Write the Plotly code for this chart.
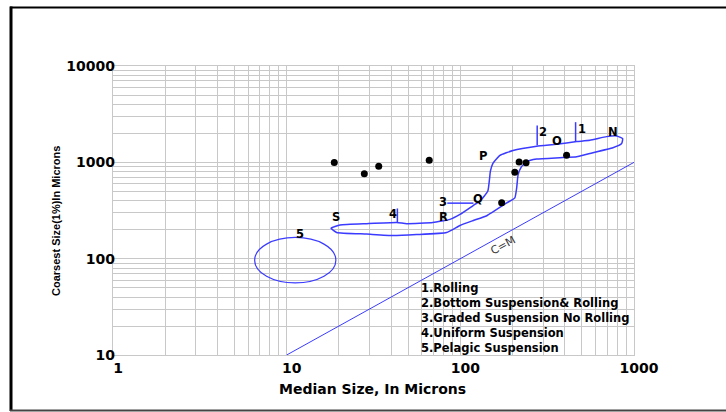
import numpy as np
import plotly.graph_objects as go

# ---------------- data ----------------
# sample points (median size, coarsest size)
dot_x = [18.8, 28.0, 33.9, 66.2, 173, 206, 218, 239, 409]
dot_y = [998, 759, 910, 1048, 380, 789, 1007, 993, 1188]

# C=M reference line
cm_x = [10, 1000]
cm_y = [10, 1000]

# NOPQRS envelope (closed loop)
env_x = [18.0, 20.3, 28.9, 43.0, 49.1, 69.5, 87.1, 99.5, 118, 130, 144, 149, 154, 169,
         201, 275, 358, 468, 557, 695, 794, 860, 849, 756, 557, 468, 374, 275, 241,
         225, 215, 211, 206, 185, 142, 118, 99.5, 83.4, 56.0, 40.9, 28.9, 19.4, 18.0]
env_y = [207, 224, 231, 237, 231, 237, 256, 288, 354, 398, 504, 809, 977, 1180,
         1328, 1469, 1541, 1642, 1694, 1849, 1878, 1763, 1566, 1416, 1237, 1144, 1117,
         1081, 1017, 904, 741, 541, 428, 379, 279, 248, 221, 187, 178, 174, 180, 187, 207]

# segment markers 1..4
mark_x = [461, 461, None, 277, 277, None, 84.1, 119, None, 43.4, 43.4]
mark_y = [2612, 1630, None, 2414, 1504, None, 377, 377, None, 332, 237]

# pelagic suspension ellipse bounds
ell_x = [6.54, 19.2]
ell_y = [56, 166]

# point labels
lab_text = ["N", "O", "2", "1", "P", "Q", "3", "R", "4", "S", "5"]
lab_x = [759, 358, 300, 499, 135, 127, 79.7, 79.7, 40.8, 19.2, 11.9]
lab_y = [2066, 1670, 2066, 2233, 1172, 418, 389, 273, 288, 273, 180]

legend_lines = ["1.Rolling", "2.Bottom Suspension& Rolling", "3.Graded Suspension No Rolling",
                "4.Uniform Suspension", "5.Pelagic Suspension"]

x_major = [1, 10, 100, 1000]
y_major = [10, 100, 1000, 10000]

# ---------------- figure ----------------
W, H = 726, 412
L, R, T, B = 113, 634, 66, 355  # plot area in px


def px2paper_x(px):
    return (px - L) / (R - L)


def px2paper_y(py):
    return (B - py) / (B - T)


BLUE = "#3b3bff"
FONT = "DejaVu Sans"

fig = go.Figure()

fig.add_trace(go.Scatter(x=cm_x, y=cm_y, mode="lines",
                         line=dict(color=BLUE, width=1), hoverinfo="skip"))
fig.add_trace(go.Scatter(x=env_x, y=env_y, mode="lines",
                         line=dict(color=BLUE, width=1.5, shape="spline", smoothing=0.4),
                         hoverinfo="skip"))
fig.add_trace(go.Scatter(x=mark_x, y=mark_y, mode="lines",
                         line=dict(color=BLUE, width=1.5), hoverinfo="skip"))
fig.add_trace(go.Scatter(x=dot_x, y=dot_y, mode="markers",
                         marker=dict(color="black", size=7), hoverinfo="skip"))

fig.add_shape(type="circle", xref="x", yref="y",
              x0=ell_x[0], x1=ell_x[1], y0=ell_y[0], y1=ell_y[1],
              line=dict(color=BLUE, width=1.2))


def log_ticks(lo, hi):
    vals = []
    for e in range(lo, hi):
        for m in range(1, 10):
            vals.append(m * 10 ** e)
    vals.append(10 ** hi)
    return vals


xv = log_ticks(0, 3)
xt = [str(v) if v in x_major else "" for v in xv]
yv = log_ticks(1, 4)
yt = [str(v) if v in y_major else "" for v in yv]

axis_common = dict(type="log", showgrid=True, gridcolor="#c8c8c8", gridwidth=1.4,
                   showline=True, linecolor="#c8c8c8", linewidth=1.4, mirror=True,
                   ticks="", zeroline=False,
                   tickfont=dict(family=FONT, size=14, color="black", weight="bold"))

fig.update_xaxes(range=[0, 3], tickvals=xv, ticktext=xt, tickmode="array",
                 ticklabelshift=5, **axis_common)
fig.update_yaxes(range=[1, 4], tickvals=yv, ticktext=yt, tickmode="array",
                 ticklabelstandoff=-6, **axis_common)

ann = []
for t, x, y in zip(lab_text, lab_x, lab_y):
    ann.append(dict(x=np.log10(x), y=np.log10(y), xref="x", yref="y", text=t,
                    showarrow=False, borderpad=0,
                    font=dict(family=FONT, size=11.5, color="black", weight="bold")))

# C=M label
ann.append(dict(x=np.log10(176), y=np.log10(137), xref="x", yref="y", text="C=M",
                showarrow=False, textangle=-29,
                font=dict(family=FONT, size=11, color="#333333")))

# legend text (one block, tightly stacked lines)
ann.append(dict(x=px2paper_x(420), y=px2paper_y(280), xref="paper", yref="paper",
                text="<br>".join(legend_lines), showarrow=False, align="left",
                xanchor="left", yanchor="top", borderpad=0,
                font=dict(family=FONT, size=11.5, color="black", weight="bold")))

# axis titles
ann.append(dict(x=px2paper_x(372), y=px2paper_y(389), xref="paper", yref="paper",
                text="Median Size, In Microns", showarrow=False,
                xanchor="center", yanchor="middle",
                font=dict(family=FONT, size=14, color="black", weight="bold")))
ann.append(dict(x=px2paper_x(56), y=px2paper_y(221), xref="paper", yref="paper",
                text="Coarsest Size(1%)In Microns", showarrow=False, textangle=-90,
                xanchor="center", yanchor="middle",
                font=dict(family="Liberation Sans Narrow, Liberation Sans", size=11,
                          color="black", weight="bold")))

# outer frame
shapes = [
    dict(type="line", xref="paper", yref="paper", x0=px2paper_x(10), x1=px2paper_x(730),
         y0=px2paper_y(7.5), y1=px2paper_y(7.5), line=dict(color="black", width=2)),
    dict(type="line", xref="paper", yref="paper", x0=px2paper_x(11), x1=px2paper_x(11),
         y0=px2paper_y(6.5), y1=px2paper_y(411), line=dict(color="black", width=3)),
    dict(type="line", xref="paper", yref="paper", x0=px2paper_x(10), x1=px2paper_x(730),
         y0=px2paper_y(410.5), y1=px2paper_y(410.5), line=dict(color="#444444", width=2)),
]
for s in shapes:
    fig.add_shape(**s)

fig.update_layout(width=W, height=H, margin=dict(l=L, r=W - R, t=T, b=H - B),
                  paper_bgcolor="white", plot_bgcolor="white", showlegend=False,
                  annotations=ann)

fig.write_html("out.html")
